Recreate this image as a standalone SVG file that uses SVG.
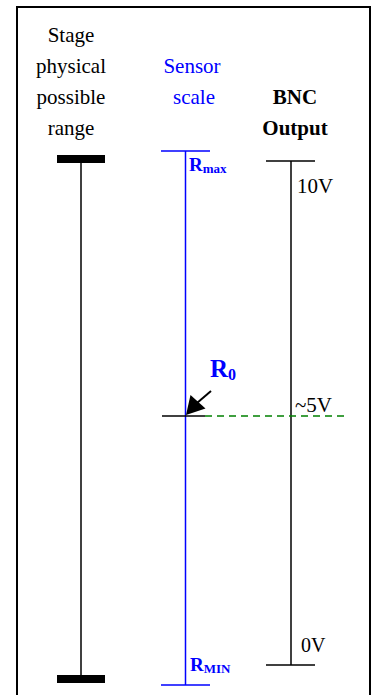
<svg xmlns="http://www.w3.org/2000/svg" width="374" height="695" viewBox="0 0 374 695">
<style>
text{font-family:"Liberation Serif","Times New Roman",serif;font-size:21px}
.blk{fill:#000}
.blu{fill:#0000ff}
.b{font-weight:bold}
.ln{stroke:#000;stroke-width:1.5;fill:none}
.bl{stroke:#0000ff;stroke-width:1.5;fill:none}
</style>
<rect x="17" y="7" width="353" height="700" fill="#fff" stroke="#000" stroke-width="2"/>
<g id="stage">
<text x="71" y="42" text-anchor="middle" class="blk">Stage</text>
<text x="71" y="73" text-anchor="middle" class="blk">physical</text>
<text x="71" y="104" text-anchor="middle" class="blk">possible</text>
<text x="71" y="135" text-anchor="middle" class="blk">range</text>
<rect x="57" y="155" width="48" height="8" fill="#000"/>
<line x1="81" y1="163" x2="81" y2="675" class="ln"/>
<rect x="57" y="675" width="48" height="8" fill="#000"/>
</g>
<g id="sensor">
<text x="192" y="73" text-anchor="middle" class="blu">Sensor</text>
<text x="194" y="104" text-anchor="middle" class="blu">scale</text>
<line x1="161" y1="151" x2="210" y2="151" class="bl"/>
<line x1="185.5" y1="151" x2="185.5" y2="685" class="bl"/>
<line x1="161" y1="685" x2="210" y2="685" class="bl"/>
<text x="189" y="171" class="blu b" style="font-size:19px">R<tspan style="font-size:13px" dy="2">max</tspan></text>
<text x="190" y="671" class="blu b" style="font-size:19px">R<tspan style="font-size:13px" dy="2">MIN</tspan></text>
<text x="210" y="377" class="blu b" style="font-size:25px">R<tspan style="font-size:16px" dy="3">0</tspan></text>
</g>
<g id="bnc">
<text x="295" y="104" text-anchor="middle" class="blk b">BNC</text>
<text x="295" y="135" text-anchor="middle" class="blk b">Output</text>
<line x1="266" y1="161" x2="315" y2="161" class="ln"/>
<line x1="291" y1="161" x2="291" y2="665" class="ln"/>
<line x1="266" y1="665" x2="315" y2="665" class="ln"/>
<text x="297" y="193" class="blk">10V</text>
<text x="295" y="412" class="blk">~5V</text>
<text x="301" y="652" class="blk" style="font-size:20px">0V</text>
</g>
<g id="connectors">
<line x1="162" y1="416" x2="205" y2="416" class="ln"/>
<line x1="205" y1="416" x2="345" y2="416" stroke="#008000" stroke-width="1.5" stroke-dasharray="7,5"/>
<line x1="211" y1="391" x2="197" y2="403" stroke="#000" stroke-width="2"/>
<path d="M186,415 L190.5,395 L205.5,408.5 Z" fill="#000"/>
</g>
</svg>
